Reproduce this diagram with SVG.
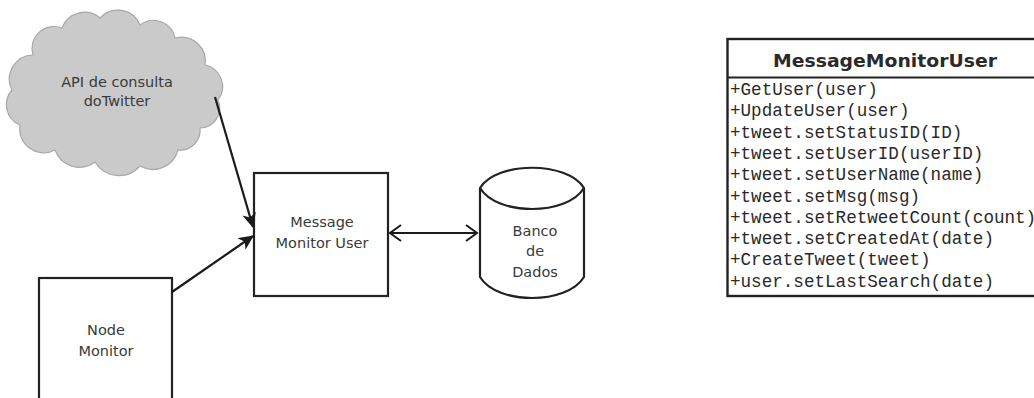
<svg xmlns="http://www.w3.org/2000/svg" width="1034" height="398" viewBox="0 0 1034 398">
<style>
.lbl{font-family:"DejaVu Sans",Verdana,sans-serif;font-size:14.5px;fill:#3a3a3a;text-anchor:middle}
.box{fill:#fff;stroke:#222;stroke-width:2.2}
.mono{font-family:"Liberation Mono","Courier New",monospace;font-size:17.6px;fill:#2a2a2a}
.edge{stroke:#1a1a1a;stroke-width:2.2;fill:none}
</style>
<defs>
<marker id="fa" markerUnits="userSpaceOnUse" markerWidth="16" markerHeight="14" refX="14" refY="7" orient="auto">
<path d="M0,0 L15,7 L0,14 L4,7 z" fill="#1a1a1a"/>
</marker>
<marker id="oa" markerUnits="userSpaceOnUse" markerWidth="14" markerHeight="18" refX="12" refY="9" orient="auto-start-reverse">
<path d="M1,1 L12,9 L1,17" fill="none" stroke="#1a1a1a" stroke-width="2"/>
</marker>
</defs>
<g id="cloud">
<path d="M33,55 A22,22 0 0 1 62,28 A24,24 0 0 1 100,18 A24,24 0 0 1 140,25 A22,22 0 0 1 175,38 A24,24 0 0 1 205,65 A22,22 0 0 1 218,100 A20,20 0 0 1 200,128 A20,20 0 0 1 178,150 A26,26 0 0 1 140,166 A28,28 0 0 1 95,162 A26,26 0 0 1 55,150 A24,24 0 0 1 20,125 A22,22 0 0 1 12,90 A24,24 0 0 1 33,55 z" fill="#cacaca" stroke="#a8a8a8" stroke-width="1.2"/>
<text class="lbl" x="117" y="87">API de consulta</text>
<text class="lbl" x="117" y="106">doTwitter</text>
</g>
<g id="message-monitor-user">
<rect class="box" x="254" y="173" width="134" height="123"/>
<text class="lbl" x="322" y="227">Message</text>
<text class="lbl" x="322" y="248">Monitor User</text>
</g>
<g id="node-monitor">
<rect class="box" x="39" y="278" width="133" height="140"/>
<text class="lbl" x="106" y="335">Node</text>
<text class="lbl" x="106" y="356">Monitor</text>
</g>
<g id="banco-de-dados">
<path d="M480,188 C497,161 567,161 584,188 L584,277 C567,305 497,305 480,277 z" fill="#fff" stroke="#222" stroke-width="2.2"/>
<path d="M480,188 C497,216 567,216 584,188" fill="none" stroke="#222" stroke-width="2.2"/>
<text class="lbl" x="535" y="236">Banco</text>
<text class="lbl" x="535" y="256">de</text>
<text class="lbl" x="535" y="277">Dados</text>
</g>
<g id="class-message-monitor-user">
<rect x="727.5" y="39" width="320" height="257" fill="#fff" stroke="#222" stroke-width="2.4"/>
<line x1="727.5" y1="77.5" x2="1040" y2="77.5" stroke="#222" stroke-width="2"/>
<text x="885" y="67" font-family="'DejaVu Sans',Verdana,sans-serif" font-size="17" font-weight="bold" fill="#2a2a2a" text-anchor="middle" textLength="224" lengthAdjust="spacingAndGlyphs">MessageMonitorUser</text>
<text class="mono" x="730" y="95">+GetUser(user)</text>
<text class="mono" x="730" y="116.3">+UpdateUser(user)</text>
<text class="mono" x="730" y="137.6">+tweet.setStatusID(ID)</text>
<text class="mono" x="730" y="158.9">+tweet.setUserID(userID)</text>
<text class="mono" x="730" y="180.2">+tweet.setUserName(name)</text>
<text class="mono" x="730" y="201.5">+tweet.setMsg(msg)</text>
<text class="mono" x="730" y="222.8">+tweet.setRetweetCount(count)</text>
<text class="mono" x="730" y="244.1">+tweet.setCreatedAt(date)</text>
<text class="mono" x="730" y="265.4">+CreateTweet(tweet)</text>
<text class="mono" x="730" y="286.7">+user.setLastSearch(date)</text>
</g>
<g id="connectors">
<line class="edge" x1="215" y1="97" x2="253" y2="227" marker-end="url(#fa)"/>
<line class="edge" x1="172" y1="292" x2="253" y2="236" marker-end="url(#fa)"/>
<line class="edge" x1="390" y1="233" x2="477" y2="233" marker-start="url(#oa)" marker-end="url(#oa)"/>
</g>
</svg>
